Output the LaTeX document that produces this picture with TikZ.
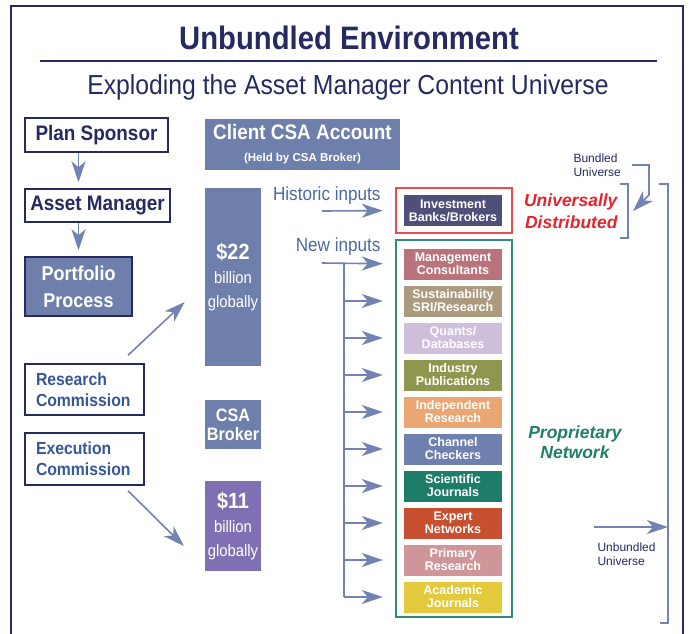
\documentclass[tikz,border=0pt]{standalone}
\usepackage{fontspec}
\setmainfont{Liberation Sans}
\newfontfamily\narrow{Liberation Sans}[FakeStretch=0.9]
\usetikzlibrary{arrows.meta}

\definecolor{navy}{HTML}{252A60}
\definecolor{slate}{HTML}{6F7FAB}
\definecolor{arrowblue}{HTML}{7283B3}
\definecolor{inkblue}{HTML}{4A6AA6}
\definecolor{resblue}{HTML}{35589A}
\definecolor{banks}{HTML}{4F5079}
\definecolor{violet}{HTML}{8070B3}
\definecolor{univred}{HTML}{E3252F}
\definecolor{framered}{HTML}{EC4A50}
\definecolor{propgreen}{HTML}{1F7F67}
\definecolor{framegreen}{HTML}{34897A}

\definecolor{cMgmt}{HTML}{B9737B}
\definecolor{cSri}{HTML}{AC9A7F}
\definecolor{cQuant}{HTML}{CEC0DB}
\definecolor{cIndustry}{HTML}{8F974E}
\definecolor{cIndep}{HTML}{EAA673}
\definecolor{cChannel}{HTML}{6F7FAE}
\definecolor{cScience}{HTML}{1E7D69}
\definecolor{cExpert}{HTML}{C84F30}
\definecolor{cPrimary}{HTML}{CF9699}
\definecolor{cAcademic}{HTML}{E3CA3C}

\begin{document}
\begin{tikzpicture}[x = 1pt, y = -1pt, > = {Stealth[length = 21pt, width = 14pt, inset = 6pt]},
	feed/.style = {->, draw = arrowblue, line width = 1.6pt},
	wire/.style = {draw = arrowblue, line width = 1.6pt},
	party/.style = {draw = navy, line width = 1.5pt, fill = white, inner sep = 0pt},
	block/.style = {fill = slate, text = white, inner sep = 0pt, align = center},
	source/.style = {text = white, inner sep = 0pt, minimum width = 98pt, minimum height = 31pt,
		align = center, font = \bfseries\fontsize{12.5}{13}\selectfont}]

	\useasboundingbox (0, 0) rectangle (689, 633);

	% Outer frame, open at the bottom

	\draw [navy, line width = 2pt] (11, 640) -- (11, 6) -- (683, 6) -- (683, 640);

	% Headings

	\node [navy, font = \narrow\bfseries\fontsize{32.5}{36}\selectfont] (title) at (349, 38) {Unbundled Environment};
	\draw [navy, line width = 1.3pt] (40, 61) -- (657, 61);
	\node [navy, font = \narrow\fontsize{27.5}{30}\selectfont] (subtitle) at (348, 87) {Exploding the Asset Manager Content Universe};

	% Left column

	\begin{scope}[font = \narrow\bfseries\fontsize{21}{25}\selectfont]

		\node [party, text = navy, minimum width = 143pt, minimum height = 34pt] (plan) at (96.5, 135) {Plan Sponsor};
		\node [party, text = navy, minimum width = 145pt, minimum height = 33pt] (manager) at (97.5, 205.5) {Asset Manager};
		\node [block, draw = navy, line width = 1.5pt, minimum width = 107pt, minimum height = 59pt,
			font = \narrow\bfseries\fontsize{20}{27}\selectfont] (portfolio) at (78.5, 286.5) {Portfolio\\Process};

	\end{scope}

	\begin{scope}[font = \narrow\bfseries\fontsize{17.5}{21}\selectfont]

		\node [party, text = resblue, minimum width = 119pt, minimum height = 51pt, align = left,
			text width = 97pt] (research) at (84.5, 389.5) {Research\\Commission};
		\node [party, text = resblue, minimum width = 119pt, minimum height = 52pt, align = left,
			text width = 97pt] (execution) at (84.5, 459) {Execution\\Commission};

	\end{scope}

	\draw [feed] (plan.south -| portfolio.north) -- ([yshift = 6pt]manager.north -| portfolio.north);
	\draw [feed] (manager.south -| portfolio.north) -- ([yshift = 6pt]portfolio.north);

	% Money columns

	\node [block, minimum width = 195pt, minimum height = 51pt] (client) at (302.5, 144)
		{{\narrow\bfseries\fontsize{21}{24}\selectfont Client CSA Account}\\[10pt]
		 {\bfseries\fontsize{11.5}{13}\selectfont (Held by CSA Broker)}};

	\node [block, minimum width = 56pt, minimum height = 178pt, font = \narrow\fontsize{16.5}{24}\selectfont] (pool22) at (233, 277)
		{{\bfseries\fontsize{22}{26}\selectfont \$22}\\ billion\\ globally};

	\node [block, minimum width = 56pt, minimum height = 49pt, font = \narrow\bfseries\fontsize{18}{19}\selectfont] (broker) at (233, 424.5)
		{CSA\\Broker};

	\node [block, fill = violet, minimum width = 56pt, minimum height = 90pt, font = \narrow\fontsize{16.5}{24}\selectfont] (pool11) at (233, 526)
		{{\bfseries\fontsize{22}{26}\selectfont \$11}\\ billion\\ globally};

	\draw [feed] ([xshift = 43.5pt, yshift = 8pt]research.north) -- ([xshift = -20pt, yshift = -25pt]pool22.west);
	\draw [feed] ([xshift = 43.5pt, yshift = -5pt]execution.south) -- ([xshift = -21pt, yshift = -20pt]pool11.west);

	% Content sources

	\node [draw = framered, line width = 1.5pt, minimum width = 116pt, minimum height = 45pt] (redbox) at (454, 210.5) {};
	\node [source, fill = banks] (ibank) at (453, 210.5) {Investment\\Banks/Brokers};

	\node [draw = framegreen, line width = 1.5pt, minimum width = 116pt, minimum height = 377pt] (greenbox) at (454, 428.5) {};

	\foreach \name/\col/\txt [count = \k from 0] in {
		mc/cMgmt/{Management\\Consultants},
		sri/cSri/{Sustainability\\SRI/Research},
		quants/cQuant/{Quants/\\Databases},
		industry/cIndustry/{Industry\\Publications},
		indep/cIndep/{Independent\\Research},
		channel/cChannel/{Channel\\Checkers},
		science/cScience/{Scientific\\Journals},
		expert/cExpert/{Expert\\Networks},
		primary/cPrimary/{Primary\\Research},
		academic/cAcademic/{Academic\\Journals}}
		\node [source, fill = \col] (\name) at (453, 264 + 37 * \k) {\txt};

	% Inputs

	\begin{scope}[inkblue, font = \narrow\fontsize{19}{22}\selectfont]
		\node [anchor = east] (histtxt) at (384, 196) {Historic inputs};
		\node [anchor = east] (newtxt) at (384, 247) {New inputs};
	\end{scope}

	\coordinate (histin) at (322, 211);
	\coordinate (newin) at (322, 263);
	\coordinate (trunk) at (344, 263);

	\draw [feed, shorten > = 21pt] (histin) -- (ibank.west);
	\draw [feed, shorten > = 21pt] (newin) -- (mc.west);
	\draw [wire] (trunk) -- (trunk |- academic.west);

	\foreach \b in {sri, quants, industry, indep, channel, science, expert, primary, academic}
		\draw [feed, shorten > = 21pt] (trunk |- \b.west) -- (\b.west);

	% Universes

	\node [univred, anchor = east, align = right, font = \bfseries\itshape\fontsize{17.5}{22}\selectfont] (univ) at (621, 211)
		{Universally\\Distributed};
	\node [propgreen, align = center, font = \bfseries\itshape\fontsize{17.5}{20}\selectfont] (prop) at (575, 442)
		{Proprietary\\Network};

	\node [navy, anchor = west, align = left, font = \fontsize{12}{13.5}\selectfont] (bundled) at (570, 165)
		{Bundled\\Universe};
	\node [navy, anchor = west, align = left, font = \fontsize{12}{14}\selectfont] (unbundled) at (594, 554)
		{Unbundled\\Universe};

	% Brackets

	\coordinate (smalltop) at (628, 184);
	\coordinate (smallbot) at (628, 238);
	\coordinate (bigtop) at (668, 184);
	\coordinate (bigbot) at (668, 623);

	\draw [wire] ([xshift = -8pt]smalltop) -- (smalltop) -- (smallbot) -- ([xshift = -8pt]smallbot);
	\draw [wire] ([xshift = -9pt]bigtop) -- (bigtop) -- (bigbot) -- ([xshift = -8pt]bigbot);

	\coordinate (bundin) at (632, 165);
	\coordinate (unbin) at (594, 527);

	\draw [feed] (bundin) -- ++(17, 0) -- ++(0, 30) -- ++(-16, 16);
	\draw [feed] (unbin) -- (unbin -| bigtop);

\end{tikzpicture}
\end{document}
